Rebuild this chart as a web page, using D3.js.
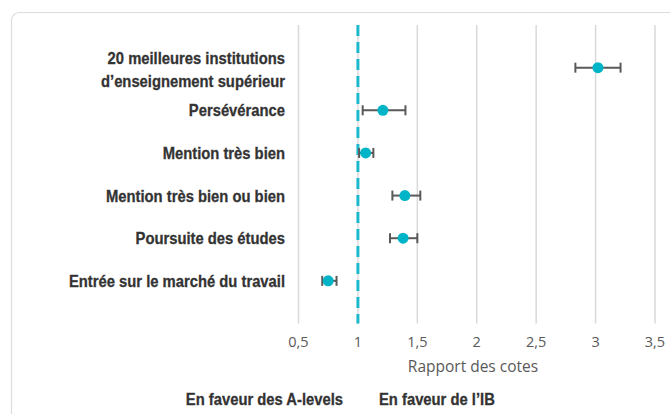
<!DOCTYPE html>
<html>
<head>
<meta charset="utf-8">
<script src="https://cdn.jsdelivr.net/npm/d3@7"></script>
<style>
  body { margin: 0; background: #fff; }
  svg { display: block; }
</style>
</head>
<body>
<svg id="chart" width="670" height="414"></svg>
<script>
// data
const categories = [
  ["20 meilleures institutions", "d\u2019enseignement sup\u00e9rieur"],
  ["Pers\u00e9v\u00e9rance"],
  ["Mention tr\u00e8s bien"],
  ["Mention tr\u00e8s bien ou bien"],
  ["Poursuite des \u00e9tudes"],
  ["Entr\u00e9e sur le march\u00e9 du travail"]
]
const oddsRatio = [3.02, 1.21, 1.065, 1.395, 1.38, 0.75]
const ciLow  = [2.83, 1.04, 1.01, 1.29, 1.27, 0.70]
const ciHigh = [3.21, 1.40, 1.13, 1.525, 1.50, 0.82]
const xTicks = [0.5, 1, 1.5, 2, 2.5, 3, 3.5]
const xTitle = "Rapport des cotes"
const sideLabels = ["En faveur des A-levels", "En faveur de l\u2019IB"]

const svg = d3.select("#chart")
const labelFont = "'Liberation Sans', Arial, sans-serif"
const tickFont = "'Open Sans', 'Liberation Sans', sans-serif"
const squeeze = 0.87   // the original labels use a condensed face
const labelSize = 17
const labelColor = "#333"

// card outline
svg.append("rect")
  .attr("x", 11.5).attr("y", 12.5)
  .attr("width", 700).attr("height", 450)
  .attr("rx", 8)
  .attr("fill", "none")
  .attr("stroke", "#dcdcdc")
  .attr("stroke-width", 1.2)

const x = d3.scaleLinear().domain([0.5, 3.5]).range([298.5, 655])
const y = d3.scaleLinear().domain([0, 7]).range([25, 323.5])

const rows = categories.map((c, i) => ({
  label: c, or: oddsRatio[i], lo: ciLow[i], hi: ciHigh[i], pos: i + 1
}))

// gridlines
svg.append("g")
  .selectAll("line").data(xTicks).enter()
  .append("line")
  .attr("x1", d => x(d)).attr("x2", d => x(d))
  .attr("y1", y(0)).attr("y2", y(7))
  .attr("stroke", "#d9d9d9")
  .attr("stroke-width", 1.5)

// reference line at 1
svg.append("line")
  .attr("x1", x(1)).attr("x2", x(1))
  .attr("y1", y(0)).attr("y2", y(7))
  .attr("stroke", "#1cb8cc")
  .attr("stroke-width", 3)
  .attr("stroke-dasharray", "11,6")

// tick labels
svg.append("g")
  .selectAll("text").data(xTicks).enter()
  .append("text")
  .attr("x", d => x(d)).attr("y", 347)
  .attr("text-anchor", "middle")
  .attr("font-family", tickFont)
  .attr("font-size", 14.5)
  .attr("fill", "#595959")
  .text(d => d3.format(".1~f")(d).replace(".", ","))

svg.append("text")
  .attr("x", 473).attr("y", 372)
  .attr("text-anchor", "middle")
  .attr("font-family", tickFont)
  .attr("font-size", 15.5)
  .attr("fill", "#595959")
  .text(xTitle)

// error bars
const bars = svg.append("g").selectAll("g").data(rows).enter().append("g")
  .attr("stroke", "#595959").attr("stroke-width", 2)
bars.append("line")
  .attr("x1", d => x(d.lo)).attr("x2", d => x(d.hi))
  .attr("y1", d => y(d.pos)).attr("y2", d => y(d.pos))
bars.append("line")
  .attr("x1", d => x(d.lo)).attr("x2", d => x(d.lo))
  .attr("y1", d => y(d.pos) - 5).attr("y2", d => y(d.pos) + 5)
bars.append("line")
  .attr("x1", d => x(d.hi)).attr("x2", d => x(d.hi))
  .attr("y1", d => y(d.pos) - 5).attr("y2", d => y(d.pos) + 5)

// points
svg.append("g")
  .selectAll("circle").data(rows).enter()
  .append("circle")
  .attr("cx", d => x(d.or)).attr("cy", d => y(d.pos))
  .attr("r", 5.5)
  .attr("fill", "#00b4c8")

function boldText(sel) {
  sel.attr("font-family", labelFont)
    .attr("font-weight", "bold")
    .attr("font-size", labelSize)
    .attr("fill", labelColor)
    .attr("stroke", labelColor)
    .attr("stroke-width", 0.3)
}

// category labels
const lab = svg.append("g")
  .attr("transform", `translate(285,0) scale(${squeeze},1)`)
  .selectAll("text").data(rows).enter()
  .append("text")
  .attr("x", 0)
  .attr("y", d => d.label.length > 1 ? y(d.pos) - 4 : y(d.pos) + 6)
  .attr("text-anchor", "end")
  .call(boldText)
lab.selectAll("tspan").data(d => d.label).enter()
  .append("tspan")
  .attr("x", 0)
  .attr("dy", (d, i) => i === 0 ? 0 : 23)
  .text(d => d)

// bottom side labels
svg.append("text")
  .attr("transform", `translate(343,405) scale(${squeeze},1)`)
  .attr("text-anchor", "end")
  .call(boldText)
  .text(sideLabels[0])
svg.append("text")
  .attr("transform", `translate(379,405) scale(${squeeze},1)`)
  .call(boldText)
  .text(sideLabels[1])
</script>
</body>
</html>
